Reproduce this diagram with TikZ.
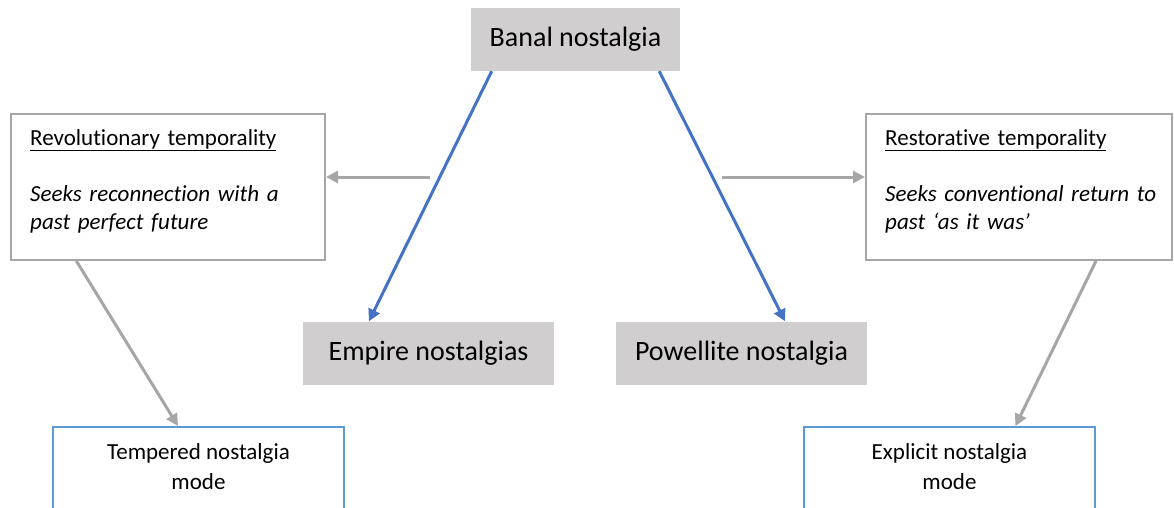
\documentclass[tikz,border=0pt]{standalone}
\usepackage{fontspec}
\setmainfont{Carlito}[Ligatures=NoCommon]
\usetikzlibrary{calc,arrows.meta}
\definecolor{boxgray}{RGB}{208,206,207}
\definecolor{linegray}{RGB}{166,166,166}
\definecolor{arrowblue}{RGB}{68,114,196}
\definecolor{boxblue}{RGB}{91,155,213}
\begin{document}
\begin{tikzpicture}[x=1pt,y=-1pt,
  graybox/.style={fill=boxgray, draw=none, inner sep=0pt, minimum height=63pt,
    font=\fontsize{28}{34}\selectfont},
  tempbox/.style={draw=linegray, line width=2pt, inner sep=0pt, minimum width=#1, minimum height=146pt},
  modebox/.style={draw=boxblue, line width=2pt, inner sep=0pt, minimum width=291pt, minimum height=133pt},
  temptext/.style={anchor=base west, inner sep=0pt, text width=290pt, align=left,
    font=\fontsize{23}{28}\selectfont},
  modetext/.style={anchor=base, inner sep=0pt, align=center,
    font=\fontsize{23}{30}\selectfont},
  bluearrow/.style={draw=arrowblue, line width=3pt, -{Triangle[length=12pt,width=12pt]}},
  grayarrow/.style={draw=linegray, line width=3pt, -{Triangle[length=12pt,width=12pt]}}]
\useasboundingbox (0,0) rectangle (1174,508);
\clip (0,0) rectangle (1174,508);

% gray concept boxes
\node[graybox, minimum width=209pt] (banal) at (575.5,39.5) {Banal nostalgia};
\node[graybox, minimum width=251pt] (emp) at (428.5,353) {Empire nostalgias};
\node[graybox, minimum width=251pt] (pow) at (741.5,353) {Powellite nostalgia};

% temporality boxes
\node[tempbox=314pt] (rev) at (168,187) {};
\node[tempbox=306pt] (res) at (1019,187) {};
\node[temptext] (revtext) at (30,145)
  {\underline{Revolutionary temporality}\\[28pt]
   \textit{Seeks reconnection with a}\\
   \textit{past perfect future}};
\node[temptext] (restext) at (885,145)
  {\underline{Restorative temporality}\\[28pt]
   \textit{Seeks conventional return to}\\
   \textit{past `as it was'}};

% mode boxes
\node[modebox] (temp) at (198.5,493.5) {};
\node[modebox] (expl) at (949.5,493.5) {};
\node[modetext] (temptxt) at (198.5,489) {Tempered nostalgia\\mode};
\node[modetext] (expltxt) at (949.5,489) {Explicit nostalgia\\mode};

% blue arrows
\draw[bluearrow] ($(banal.south west)!0.1!(banal.south east)$) -- ($(emp.north west)!0.263!(emp.north east)$);
\draw[bluearrow] ($(banal.south west)!0.9!(banal.south east)$) -- ($(pow.north west)!0.673!(pow.north east)$);

% gray horizontal arrows
\coordinate (lstart) at (430,177);
\coordinate (rstart) at (722,177);
\draw[grayarrow] (lstart) -- (lstart -| rev.east);
\draw[grayarrow] (rstart) -- (rstart -| res.west);

% gray diagonal arrows
\draw[grayarrow] ($(rev.south west)!0.21!(rev.south east)$) -- ($(temp.north west)!0.43!(temp.north east)$);
\draw[grayarrow] ($(res.south west)!0.75!(res.south east)$) -- ($(expl.north west)!0.725!(expl.north east)$);
\end{tikzpicture}
\end{document}
